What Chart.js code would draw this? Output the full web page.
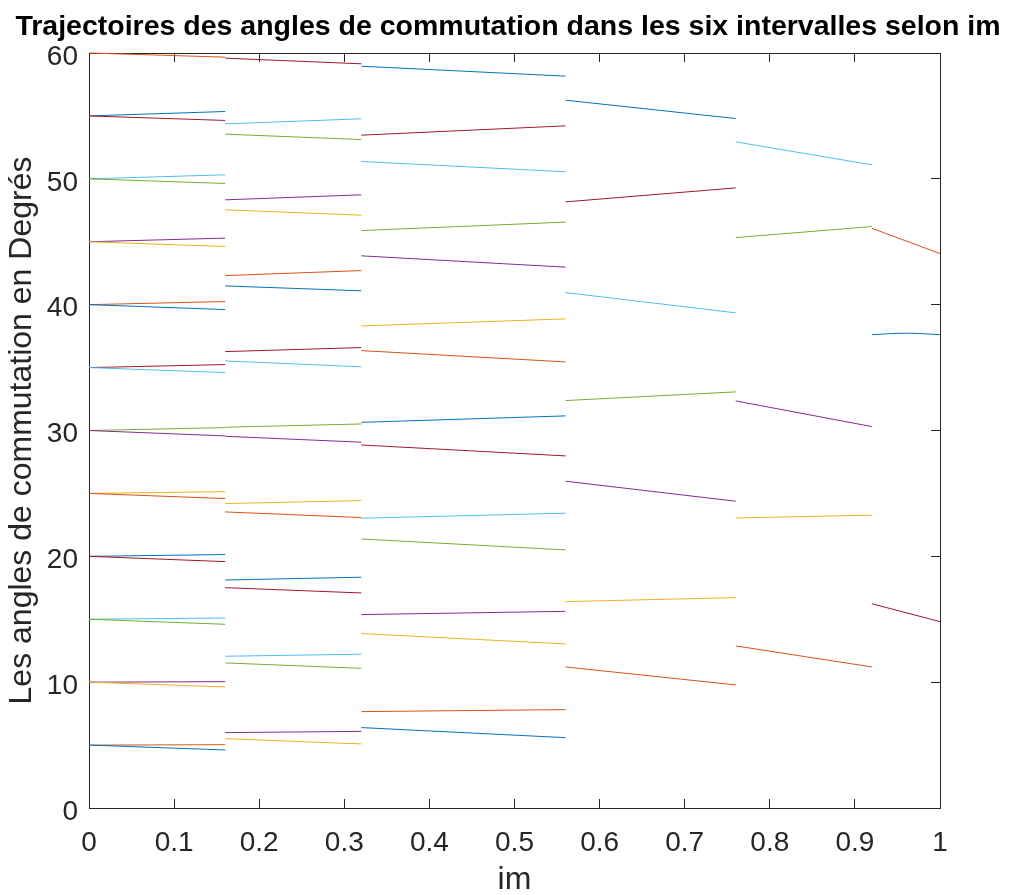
<!DOCTYPE html>
<html>
<head>
<meta charset="utf-8">
<title>Trajectoires des angles de commutation</title>
<script src="https://cdn.jsdelivr.net/npm/chart.js@4.4.0/dist/chart.umd.min.js"></script>
<style>
  body { margin: 0; background: #fff; }
  canvas { display: block; }
</style>
</head>
<body>
<canvas id="myChart" width="1016" height="895"></canvas>
<script>
// bornes des six intervalles de im
const intervalBounds = [0, 0.16, 0.32, 0.56, 0.76, 0.92, 1];

// angles (degres) le long de chaque trajectoire, du debut a la fin de l'intervalle
const interval1 = [
    [5, 4.61], [5, 5.03], [10, 9.62], [10, 10.04], [15, 14.6], [15, 15.1],
    [20, 19.58], [20, 20.14], [25, 24.59], [25, 25.14], [30, 29.57], [30, 30.23],
    [35, 34.6], [35, 35.24], [40, 39.61], [40, 40.25], [45, 44.62], [45, 45.29],
    [50, 49.63], [50, 50.32], [55, 54.64], [55, 55.35], [60, 59.67],
];
const interval2 = [
    [5.51, 5.09], [5.99, 6.09], [11.53, 11.1], [12.06, 12.22], [17.51, 17.09],
    [18.12, 18.34], [23.53, 23.08], [24.19, 24.43], [29.54, 29.07], [30.26, 30.52],
    [35.53, 35.06], [36.27, 36.59], [41.49, 41.1], [42.31, 42.71], [47.54, 47.11],
    [48.33, 48.73], [53.55, 53.12], [54.37, 54.77], [59.59, 59.14],
];
const interval3 = [
    [6.39, 5.59], [7.66, 7.82], [13.86, 13.04], [15.37, 15.63], [21.38, 20.51],
    [23.03, 23.43], [28.85, 27.98], [30.65, 31.16], [36.35, 35.45], [38.31, 38.87],
    [43.88, 42.98], [45.89, 46.56], [51.38, 50.56], [53.47, 54.21], [58.95, 58.16],
];
const interval4 = [
    [11.21, 9.78], [16.4, 16.72], [25.97, 24.38], [32.38, 33.07],
    [40.96, 39.35], [48.17, 49.28], [56.25, 54.79],
];
const interval5 = [
    [12.88, 11.21], [23.05, 23.27], [32.35, 30.31], [45.33, 46.21], [52.94, 51.11],
];
const interval6 = [
    [16.23, 14.81], [37.62, 37.73, 37.62], [46.07, 44.06],
];
const intervals = [interval1, interval2, interval3, interval4, interval5, interval6];

const lineColors = ["#0072BD", "#D95319", "#EDB120", "#7E2F8E", "#77AC30", "#4DBEEE", "#A2142F"];
const xTickLabels = ["0", "0.1", "0.2", "0.3", "0.4", "0.5", "0.6", "0.7", "0.8", "0.9", "1"];
const yTickLabels = ["0", "10", "20", "30", "40", "50", "60"];

const axisColor = "#262626";
const fontFamily = "'Liberation Sans', Arial, Helvetica, sans-serif";
Chart.defaults.font.family = fontFamily;

// une courbe par trajectoire, couleurs dans l'ordre de matlab
const datasets = [];
let colorIdx = 0;
intervals.forEach((lines, i) => {
    const a = intervalBounds[i];
    const b = intervalBounds[i + 1];
    for (const angles of lines) {
        const n = angles.length;
        datasets.push({
            data: angles.map((y, k) => ({ x: a + (b - a) * k / (n - 1), y: y })),
            borderColor: lineColors[colorIdx % lineColors.length],
            borderWidth: 1,
            pointRadius: 0,
            tension: n > 2 ? 0.4 : 0,
            clip: false,
        });
        colorIdx++;
    }
});

const frameGrid = { drawOnChartArea: false, tickLength: -9, color: axisColor, lineWidth: 1 };
const frameBorder = { display: true, color: axisColor, width: 1 };

const ctx = document.getElementById("myChart").getContext("2d");
const myChart = new Chart(ctx, {
    type: "line",
    data: { datasets: datasets },
    options: {
        responsive: false,
        animation: false,
        devicePixelRatio: 1,
        layout: { padding: 0 },
        plugins: {
            legend: { display: false },
            tooltip: { enabled: false },
            title: {
                display: true,
                text: "Trajectoires des angles de commutation dans les six intervalles selon im",
                color: "#000",
                font: { size: 28.5, weight: "bold" },
                padding: { top: 10, bottom: 0 },
            },
        },
        scales: {
            x: {
                type: "linear",
                position: "bottom",
                min: 0,
                max: 1,
                ticks: {
                    stepSize: 0.1,
                    autoSkip: false,
                    maxRotation: 0,
                    padding: 27,
                    color: axisColor,
                    font: { size: 28 },
                    callback: (v, i) => xTickLabels[i],
                },
                grid: frameGrid,
                border: frameBorder,
                title: {
                    display: true,
                    text: "im",
                    color: axisColor,
                    font: { size: 32 },
                    padding: { top: 0, bottom: -4 },
                },
                afterFit: (s) => { s.height = 87; },
            },
            x2: {
                type: "linear",
                position: "top",
                min: 0,
                max: 1,
                ticks: { stepSize: 0.1, display: false },
                grid: frameGrid,
                border: frameBorder,
                afterFit: (s) => { s.height = 8.8; },
            },
            y: {
                type: "linear",
                position: "left",
                min: 0,
                max: 60,
                ticks: {
                    stepSize: 10,
                    padding: 20,
                    labelOffset: 4,
                    color: axisColor,
                    font: { size: 28 },
                    callback: (v, i) => yTickLabels[i],
                },
                grid: frameGrid,
                border: frameBorder,
                title: {
                    display: true,
                    text: "Les angles de commutation en Degrés",
                    color: axisColor,
                    font: { size: 32 },
                    padding: { top: 3, bottom: 0 },
                },
                afterFit: (s) => { s.width = 89; },
            },
            y2: {
                type: "linear",
                position: "right",
                min: 0,
                max: 60,
                ticks: { stepSize: 10, display: false },
                grid: frameGrid,
                border: frameBorder,
                afterFit: (s) => { s.width = 76; },
            },
        },
    },
});
</script>
</body>
</html>
